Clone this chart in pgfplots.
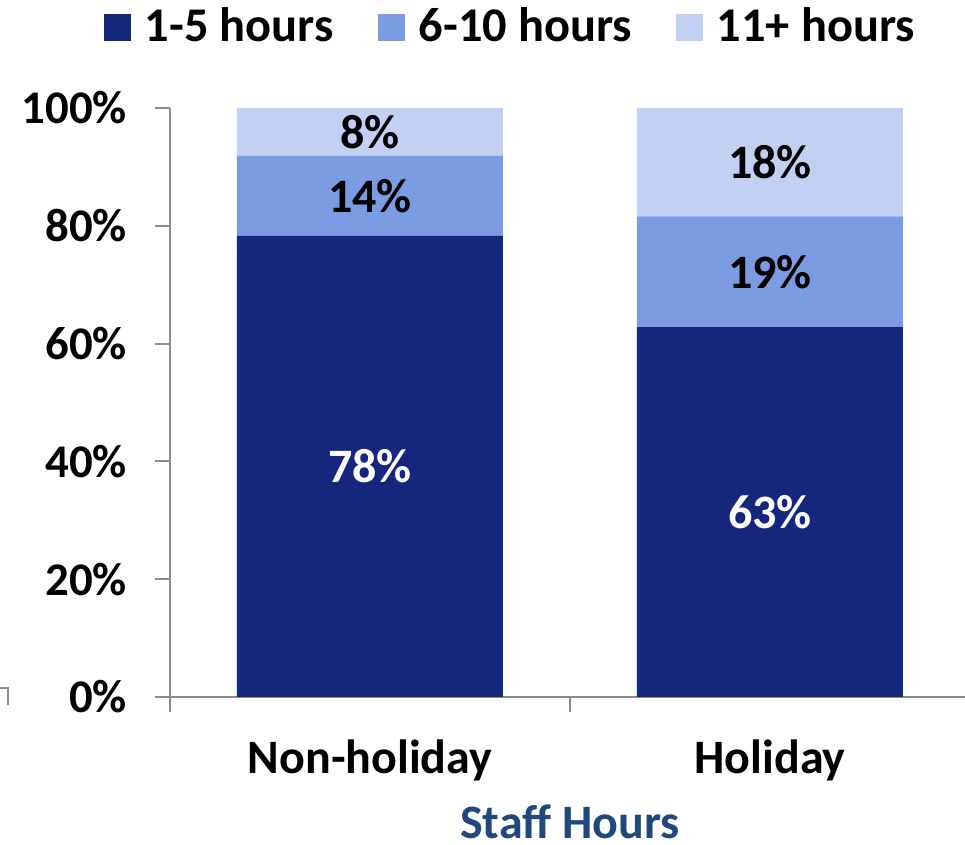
\documentclass[border=0pt]{standalone}
\usepackage{fontspec}
\setmainfont{Carlito}
\usepackage{pgfplots}
\usepackage{pgfplotstable}
\pgfplotsset{compat=1.18}

\definecolor{navy}{RGB}{21,39,125}
\definecolor{midblue}{RGB}{123,155,227}
\definecolor{lightblue}{RGB}{193,208,243}
\definecolor{axgray}{RGB}{140,140,140}
\definecolor{titleblue}{RGB}{31,73,125}

% share of staff by hours worked, label = rounded value
\pgfplotstableread{
x low  mid  high lowl midl highl
0 78.3 13.6 8.1  78   14   8
1 62.8 18.8 18.4 63   19   18
}\hours

\begin{document}
\begin{tikzpicture}
\begin{axis}[
    scale only axis,
    width=198.75pt, height=147.25pt,
    clip=false,
    ybar stacked,
    bar width=0.665,
    xmin=-0.5, xmax=1.4875,
    ymin=0, ymax=100,
    axis x line*=bottom, axis y line*=left,
    axis line style={draw=axgray, line width=0.5pt},
    tick align=outside,
    major tick length=3.75pt,
    ytick={0,20,...,100},
    yticklabels={0\%,20\%,40\%,60\%,80\%,100\%},
    ytick style={draw=axgray, line width=0.5pt},
    yticklabel style={font=\bfseries\fontsize{11.7}{13}\selectfont, xshift=-3.5pt},
    xtick={0,1},
    xticklabels={Non-holiday,Holiday},
    xtick style={draw=none},
    xticklabel style={font=\bfseries\fontsize{12}{14}\selectfont, yshift=-3.3pt},
    extra x ticks={-0.5,0.5},
    extra x tick labels={},
    extra x tick style={xtick style={draw=axgray, line width=0.5pt}},
    xlabel={Staff Hours},
    xlabel style={at={(axis description cs:0.503,0)}, anchor=north, yshift=-23.5pt,
        text=titleblue, font=\bfseries\fontsize{12}{14}\selectfont},
    point meta=explicit symbolic,
    nodes near coords={\pgfplotspointmeta\%},
    every node near coord/.append style={anchor=center,
        font=\bfseries\fontsize{12}{14}\selectfont},
    legend columns=3,
    legend style={at={(axis description cs:0.432,1)}, anchor=center, yshift=20pt,
        draw=none, fill=none, font=\bfseries\fontsize{12.1}{13}\selectfont,
        /tikz/every even column/.append style={column sep=9pt}},
    legend image code/.code={\fill[#1] (0pt,-3.375pt) rectangle (6.75pt,3.375pt);
        \path (8.25pt,0pt);},
]
\addplot[fill=navy, draw=none, every node near coord/.append style={text=white}]
    table[x=x, y=low, meta=lowl] {\hours};
\addplot[fill=midblue, draw=none, every node near coord/.append style={text=black}]
    table[x=x, y=mid, meta=midl] {\hours};
\addplot[fill=lightblue, draw=none, every node near coord/.append style={text=black}]
    table[x=x, y=high, meta=highl] {\hours};
\legend{1-5 hours, 6-10 hours, 11+ hours}
\draw[axgray, line width=0.5pt] (axis cs:-0.5,0) -- ++(-3.75pt,0);
\end{axis}
\draw[axgray, line width=0.5pt] (-42.5pt,2.25pt) -- (-40.5pt,2.25pt) -- (-40.5pt,-2pt);
\pgfresetboundingbox
\path[use as bounding box] (-42.5pt,-37pt) rectangle (198.75pt,174.25pt);
\end{tikzpicture}
\end{document}
